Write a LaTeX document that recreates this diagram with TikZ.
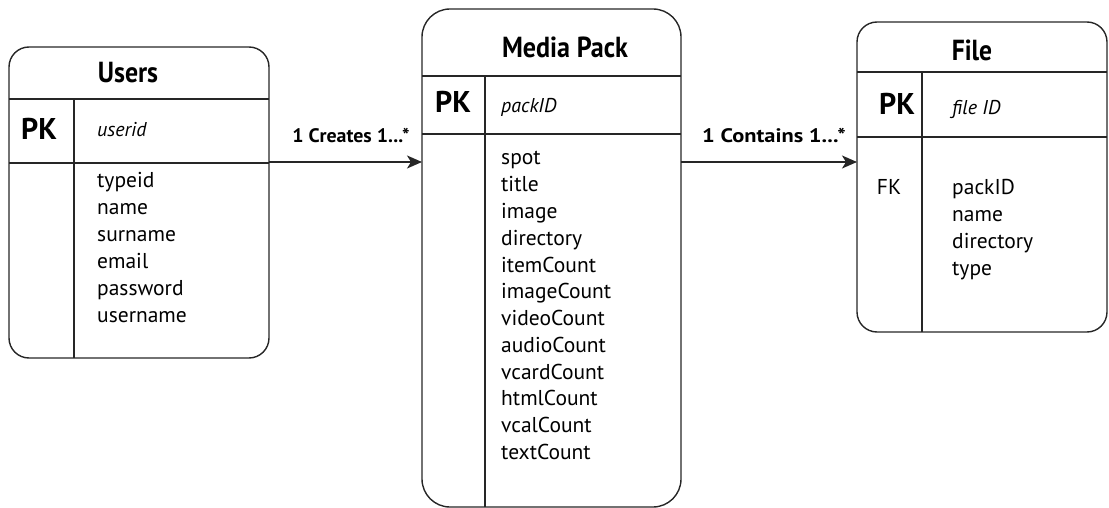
\documentclass[tikz,border=0pt]{standalone}
\usepackage{fontspec}
\usepackage{graphicx}
\setmainfont{PT Sans}
\usetikzlibrary{arrows.meta,calc}

\begin{document}
\begin{tikzpicture}[x=1pt,y=-1pt,
  tbl/.style={draw=black!85,line width=1.4pt,inner sep=0pt,outer sep=0pt,anchor=north west},
  rule/.style={draw=black!85,line width=1.4pt},
  fld/.style={inner sep=0pt,anchor=base west,font=\fontsize{21.5}{24}\selectfont},
  keyid/.style={inner sep=0pt,anchor=base west,font=\fontsize{20}{22}\selectfont\itshape},
  pk/.style={inner sep=0pt,anchor=base,font=\fontsize{30}{32}\selectfont\bfseries},
  fk/.style={inner sep=0pt,anchor=base,font=\fontsize{21.5}{24}\selectfont},
  ttl/.style={inner sep=0pt,anchor=base,font=\fontsize{29}{32}\selectfont\bfseries},
  lbl/.style={inner sep=0pt,anchor=base,font=\fontsize{19.5}{22}\selectfont\bfseries},
  link/.style={draw=black!85,line width=1.6pt,-{Stealth[length=15pt,width=13pt,inset=4pt]}}
]
\useasboundingbox (0,0) rectangle (1109,508);

% ---------- Users ----------
\node[tbl,rounded corners=20pt,minimum width=260pt,minimum height=311pt] (users) at (9,47) {};
\draw[rule] (users.west |- 0,99) -- (users.east |- 0,99);
\draw[rule] (users.west |- 0,163) -- (users.east |- 0,163);
\draw[rule] (74,99) -- (users.south -| 74,0);
\node[ttl] (usersT) at (128,83) {\scalebox{0.89}[1]{Users}};
\node[pk] (usersPK) at (39,140) {PK};
\node[keyid] (usersK) at (97,137) {userid};
\foreach \t [count=\i] in {typeid,name,surname,email,password,username}
  \node[fld] (u\i) at (97,{188+26.8*(\i-1)}) {\t};

% ---------- Media Pack ----------
\node[tbl,rounded corners=28pt,minimum width=259pt,minimum height=498pt] (media) at (422,9) {};
\draw[rule] (media.west |- 0,76) -- (media.east |- 0,76);
\draw[rule] (media.west |- 0,134) -- (media.east |- 0,134);
\draw[rule] (485,76) -- (media.south -| 485,0);
\node[ttl] (mediaT) at (565,58) {\scalebox{0.9}[1]{Media Pack}};
\node[pk] (mediaPK) at (453,113) {PK};
\node[keyid] (mediaK) at (501,113) {packID};
\foreach \t [count=\i] in {spot,title,image,directory,itemCount,imageCount,videoCount,audioCount,vcardCount,htmlCount,vcalCount,textCount}
  \node[fld] (m\i) at (501,{165+26.75*(\i-1)}) {\t};

% ---------- File ----------
\node[tbl,rounded corners=20pt,minimum width=250pt,minimum height=310pt] (file) at (857,22) {};
\draw[rule] (file.west |- 0,72) -- (file.east |- 0,72);
\draw[rule] (file.west |- 0,137) -- (file.east |- 0,137);
\draw[rule] (922,72) -- (file.south -| 922,0);
\node[ttl] (fileT) at (972,61) {\scalebox{0.88}[1]{File}};
\node[pk] (filePK) at (897,115) {PK};
\node[keyid] (fileK) at (952,115) {file ID};
\node[fk] (fileFK) at (889,195) {FK};
\foreach \t [count=\i] in {packID,name,directory,type}
  \node[fld] (f\i) at (952,{195+26.7*(\i-1)}) {\t};

% ---------- relationships ----------
\coordinate (rowA) at (0,162);
\draw[link] (users.east |- rowA) -- (media.west |- rowA);
\node[lbl] (relA) at (351,143) {\scalebox{1.02}[1]{1 Creates 1...*}};
\draw[link] (media.east |- rowA) -- (file.west |- rowA);
\node[lbl] (relB) at (774,143) {\scalebox{1.15}[1]{1 Contains 1...*}};
\end{tikzpicture}
\end{document}
